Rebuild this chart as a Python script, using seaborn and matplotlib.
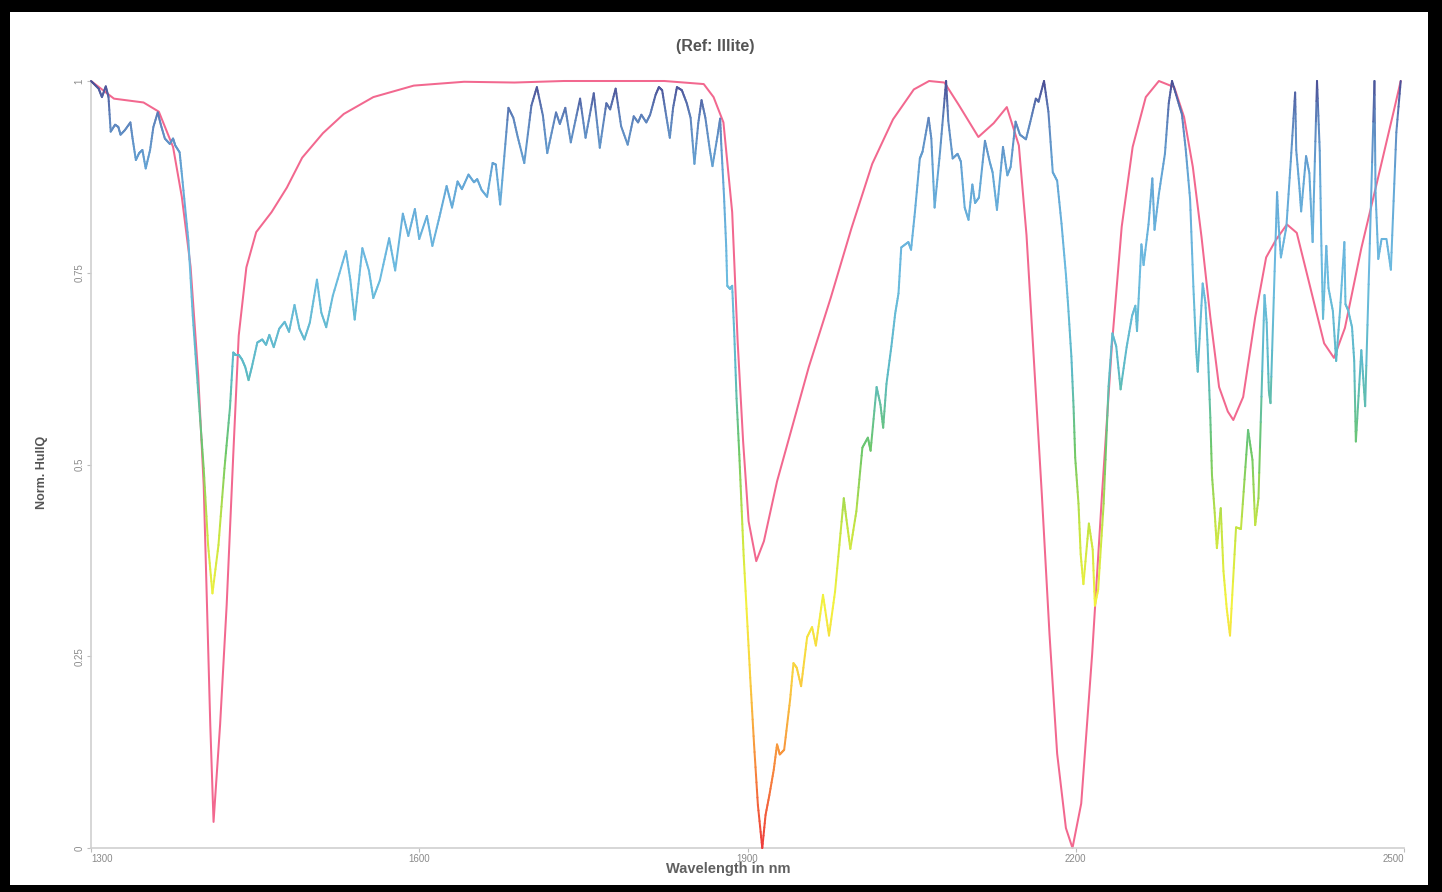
import numpy as np
import pandas as pd
import matplotlib
matplotlib.use('Agg')
import matplotlib.pyplot as plt
import seaborn as sns
from matplotlib.collections import LineCollection
from matplotlib.colors import LinearSegmentedColormap
from matplotlib.patches import Rectangle

# ---------------- data ----------------
wl_ref = [1300, 1321, 1348, 1362, 1375, 1383, 1391, 1398, 1403, 1406,
          1409, 1412, 1418, 1424, 1430, 1435, 1442, 1451, 1465, 1479,
          1493, 1512, 1531, 1558, 1595, 1641, 1687, 1732, 1777, 1824,
          1860, 1869, 1878, 1886, 1891, 1896, 1901, 1908, 1915, 1927,
          1942, 1956, 1976, 1995, 2014, 2033, 2052, 2066, 2080, 2093,
          2111, 2125, 2137, 2148, 2155, 2162, 2169, 2176, 2183, 2191,
          2197, 2205, 2215, 2224, 2233, 2242, 2252, 2264, 2276, 2290,
          2299, 2307, 2315, 2323, 2331, 2339, 2344, 2353, 2364, 2374,
          2383, 2393, 2402, 2410, 2419, 2427, 2436, 2446, 2461, 2476,
          2491, 2497]
ref_vals = [1.0, 0.977, 0.972, 0.960, 0.914, 0.849, 0.758, 0.616, 0.473, 0.317,
            0.161, 0.034, 0.161, 0.317, 0.512, 0.668, 0.757, 0.803, 0.829, 0.861,
            0.900, 0.932, 0.957, 0.979, 0.994, 0.999, 0.998, 1.0, 1.0, 1.0,
            0.996, 0.979, 0.946, 0.829, 0.66, 0.53, 0.426, 0.374, 0.40, 0.478,
            0.555, 0.627, 0.717, 0.808, 0.892, 0.950, 0.989, 1.0, 0.998, 0.969,
            0.927, 0.945, 0.966, 0.916, 0.799, 0.63, 0.461, 0.279, 0.123, 0.026,
            0.0, 0.058, 0.253, 0.461, 0.655, 0.81, 0.914, 0.979, 1.0, 0.992,
            0.953, 0.888, 0.796, 0.692, 0.601, 0.569, 0.558, 0.588, 0.692, 0.77,
            0.793, 0.813, 0.802, 0.756, 0.704, 0.658, 0.639, 0.678, 0.782, 0.872,
            0.963, 1.0]

wl_sample = [1300, 1307, 1310, 1313.5, 1316, 1318, 1322, 1325, 1327, 1331,
             1336, 1338, 1341, 1344, 1347, 1350, 1354, 1357, 1361, 1364,
             1367.5, 1372, 1375, 1377, 1381, 1383, 1389, 1393, 1398, 1403,
             1407, 1411, 1416.5, 1422, 1427, 1430, 1432, 1435, 1438, 1441,
             1444, 1447, 1452, 1456.5, 1460, 1463, 1467, 1472, 1477, 1481,
             1486, 1490.5, 1495, 1500, 1506.5, 1510.5, 1515, 1521, 1533, 1537,
             1541, 1548, 1554, 1558, 1564, 1572.5, 1578, 1585, 1590, 1596,
             1600, 1607, 1612, 1618.5, 1625, 1630, 1635, 1639, 1645, 1650,
             1653, 1657, 1662, 1667, 1670, 1674, 1681.5, 1686, 1690, 1696,
             1702.5, 1707.5, 1713, 1717, 1725, 1728.5, 1733.5, 1738.5, 1747, 1752,
             1759.5, 1765, 1771, 1774.5, 1779.5, 1784.5, 1790.5, 1796, 1800, 1803,
             1807.5, 1811, 1816, 1819, 1822, 1826, 1829, 1832, 1835.5, 1840,
             1844.5, 1848, 1851.5, 1855, 1858, 1861.5, 1865.5, 1868, 1873, 1875,
             1876, 1878.5, 1880.5, 1881.5, 1884, 1886, 1888, 1890, 1892.5, 1894.5,
             1896.5, 1900, 1902.5, 1906, 1909.5, 1913.5, 1916.5, 1920, 1924, 1927,
             1929.5, 1933.5, 1939, 1942, 1945, 1949, 1954.5, 1959, 1962.5, 1969,
             1974.5, 1980, 1988, 1990, 1994, 1999.5, 2005, 2010, 2012.5, 2018,
             2021.5, 2024, 2027, 2031.5, 2035, 2038, 2040.5, 2047, 2049.5, 2053,
             2057.5, 2060, 2065.5, 2068, 2071, 2076, 2081.5, 2083.5, 2087.5, 2092,
             2095, 2098.5, 2102, 2105.5, 2108, 2111.5, 2117, 2121.5, 2124, 2128,
             2133.5, 2137.5, 2140.5, 2145, 2149, 2154.5, 2158.5, 2163.5, 2166, 2171,
             2175, 2179, 2183, 2187, 2191, 2193, 2196, 2198, 2199.5, 2202.5,
             2204.5, 2207, 2212, 2215.5, 2217.5, 2220.5, 2225.5, 2230, 2233.5, 2237,
             2241, 2246.5, 2251.5, 2254.5, 2256, 2260, 2262, 2266.5, 2270, 2272,
             2276, 2281.5, 2285, 2288, 2294, 2297, 2300.5, 2304.5, 2307.5, 2310,
             2311.5, 2316, 2318.5, 2320.5, 2323, 2324.5, 2327, 2329, 2332.5, 2335,
             2338, 2341, 2346.5, 2351, 2357.5, 2361.5, 2364, 2367, 2372.5, 2374.5,
             2376.5, 2378, 2384, 2385.5, 2387.5, 2392.5, 2396.5, 2400.5, 2401.5, 2404.5,
             2406, 2410.5, 2413.5, 2416.5, 2420.5, 2423, 2424.5, 2426, 2429, 2431,
             2435, 2438, 2441.5, 2445.5, 2446.5, 2449, 2452.5, 2454.5, 2456, 2461,
             2464.5, 2473, 2474, 2476.5, 2479.5, 2484, 2488, 2493, 2497]
sample_vals = [1.0, 0.99, 0.979, 0.993, 0.979, 0.934, 0.943, 0.94, 0.93, 0.936,
               0.946, 0.925, 0.897, 0.906, 0.91, 0.886, 0.91, 0.94, 0.959, 0.942,
               0.925, 0.918, 0.925, 0.916, 0.907, 0.879, 0.792, 0.694, 0.594, 0.495,
               0.395, 0.332, 0.395, 0.495, 0.574, 0.646, 0.643, 0.643, 0.637, 0.627,
               0.61, 0.627, 0.659, 0.663, 0.656, 0.669, 0.653, 0.677, 0.686, 0.673,
               0.708, 0.677, 0.663, 0.685, 0.741, 0.698, 0.679, 0.72, 0.778, 0.741,
               0.689, 0.782, 0.753, 0.717, 0.74, 0.795, 0.753, 0.827, 0.798, 0.833,
               0.794, 0.824, 0.785, 0.823, 0.863, 0.835, 0.869, 0.859, 0.878, 0.868,
               0.872, 0.858, 0.849, 0.893, 0.891, 0.839, 0.965, 0.952, 0.927, 0.893,
               0.968, 0.992, 0.955, 0.906, 0.959, 0.944, 0.965, 0.92, 0.977, 0.926,
               0.984, 0.913, 0.971, 0.963, 0.99, 0.941, 0.917, 0.954, 0.946, 0.956,
               0.946, 0.956, 0.982, 0.992, 0.988, 0.952, 0.926, 0.965, 0.992, 0.988,
               0.971, 0.952, 0.892, 0.945, 0.975, 0.952, 0.911, 0.889, 0.932, 0.951,
               0.918, 0.851, 0.785, 0.733, 0.729, 0.733, 0.667, 0.586, 0.513, 0.447,
               0.381, 0.289, 0.222, 0.135, 0.056, 0.0, 0.043, 0.069, 0.102, 0.135,
               0.122, 0.128, 0.194, 0.241, 0.235, 0.211, 0.275, 0.288, 0.264, 0.33,
               0.277, 0.334, 0.456, 0.433, 0.39, 0.439, 0.522, 0.535, 0.518, 0.601,
               0.578, 0.548, 0.605, 0.654, 0.697, 0.723, 0.783, 0.79, 0.78, 0.829,
               0.899, 0.908, 0.952, 0.925, 0.835, 0.908, 1.0, 0.948, 0.899, 0.905,
               0.895, 0.835, 0.819, 0.865, 0.841, 0.848, 0.922, 0.894, 0.881, 0.832,
               0.914, 0.877, 0.888, 0.947, 0.93, 0.924, 0.947, 0.977, 0.973, 1.0,
               0.96, 0.881, 0.87, 0.814, 0.748, 0.708, 0.641, 0.575, 0.509, 0.449,
               0.383, 0.344, 0.423, 0.389, 0.316, 0.337, 0.449, 0.602, 0.671, 0.654,
               0.598, 0.653, 0.694, 0.707, 0.674, 0.787, 0.76, 0.813, 0.873, 0.806,
               0.853, 0.905, 0.971, 1.0, 0.971, 0.957, 0.911, 0.846, 0.732, 0.651,
               0.621, 0.736, 0.711, 0.656, 0.561, 0.486, 0.437, 0.391, 0.443, 0.361,
               0.312, 0.277, 0.418, 0.416, 0.545, 0.506, 0.421, 0.456, 0.721, 0.685,
               0.596, 0.58, 0.855, 0.81, 0.77, 0.81, 0.895, 0.985, 0.91, 0.86,
               0.83, 0.902, 0.88, 0.79, 1.0, 0.909, 0.785, 0.69, 0.785, 0.73,
               0.70, 0.635, 0.70, 0.79, 0.709, 0.701, 0.679, 0.635, 0.53, 0.649,
               0.576, 1.0, 0.854, 0.768, 0.794, 0.794, 0.754, 0.933, 1.0]

x_ticks = [1300, 1600, 1900, 2200, 2500]
y_ticks = [0, 0.25, 0.5, 0.75, 1]
y_tick_labels = ['0', '0.25', '0.5', '0.75', '1']
title_text = '(Ref: Illite)'
x_label = 'Wavelength in nm'
y_label = 'Norm. HullQ'

# ---------------- style ----------------
sns.set_theme(style='white')
plt.rcParams['font.family'] = ['Liberation Sans', 'DejaVu Sans']

W, H = 1442, 892
fig = plt.figure(figsize=(W / 100, H / 100), dpi=100)
fig.patch.set_facecolor('black')
fig.patches.append(Rectangle((10 / W, 7 / H), 1418 / W, 873 / H,
                             transform=fig.transFigure, facecolor='white',
                             edgecolor='none', zorder=-10))

ax = fig.add_axes([91 / W, 44 / H, 1313 / W, 767 / H])
ax.set_facecolor('none')

# reference (illite) curve
ref_df = pd.DataFrame({'wl': wl_ref, 'v': ref_vals})
sns.lineplot(data=ref_df, x='wl', y='v', ax=ax, color='#f2688f',
             linewidth=1.45, estimator=None, sort=False, clip_on=False, zorder=2,
             solid_joinstyle='round')

# sample curve coloured by its value
cmap = LinearSegmentedColormap.from_list('hullq', [
    (0.00, '#ee3b3b'), (0.10, '#f7863c'), (0.22, '#f9cf40'), (0.32, '#f3f23e'),
    (0.42, '#c4e442'), (0.52, '#6cc76a'), (0.62, '#5cbac6'), (0.75, '#6cbbe0'),
    (0.88, '#64a6d6'), (0.95, '#5f86be'), (1.00, '#4b4f96')])
xs = np.asarray(wl_sample, dtype=float)
ys = np.asarray(sample_vals, dtype=float)
segs, cols = [], []
for i in range(len(xs) - 1):
    t = np.linspace(0, 1, 9)
    sx = xs[i] + (xs[i + 1] - xs[i]) * t
    sy = ys[i] + (ys[i + 1] - ys[i]) * t
    for j in range(len(t) - 1):
        segs.append([(sx[j], sy[j]), (sx[j + 1], sy[j + 1])])
        cols.append((sy[j] + sy[j + 1]) / 2)
lc = LineCollection(segs, cmap=cmap, norm=plt.Normalize(0, 1), linewidths=1.45,
                    capstyle='round', joinstyle='round', zorder=3)
lc.set_array(np.asarray(cols))
lc.set_clip_on(False)
ax.add_collection(lc)

# axes
ax.set_xlim(1300, 2500)
ax.set_ylim(0, 1)
ax.set_xticks(x_ticks)
ax.set_xticklabels([str(t) for t in x_ticks], fontsize=7, color='#8a8a8a')
xl = ax.get_xticklabels()
xl[0].set_ha('left')
xl[-1].set_ha('right')
ax.set_yticks(y_ticks)
ax.set_yticklabels(y_tick_labels, rotation=90, va='center', fontsize=7, color='#8a8a8a')
ax.tick_params(axis='both', length=3, width=0.8, color='#bdbdbd', pad=1.5,
               bottom=True, left=True)
sns.despine(ax=ax)
for s in ('left', 'bottom'):
    ax.spines[s].set_color('#cfcfcf')
    ax.spines[s].set_linewidth(1.2)

ax.set_xlabel(x_label, fontsize=10.5, fontweight='bold', color='#606060')
ax.xaxis.set_label_coords((728 - 91) / 1313, -(869 - 848) / 767)
ax.xaxis.label.set_va('center')
ax.set_ylabel(y_label, fontsize=9, fontweight='bold', color='#555555')
ax.yaxis.set_label_coords((42 - 91) / 1313, 0.49)
ax.yaxis.label.set_va('center')

fig.text(715 / W, 1 - 47 / H, title_text, ha='center', va='center',
         fontsize=11.5, fontweight='bold', color='#555555')

fig.savefig('out.png', dpi=100, facecolor=fig.get_facecolor())
